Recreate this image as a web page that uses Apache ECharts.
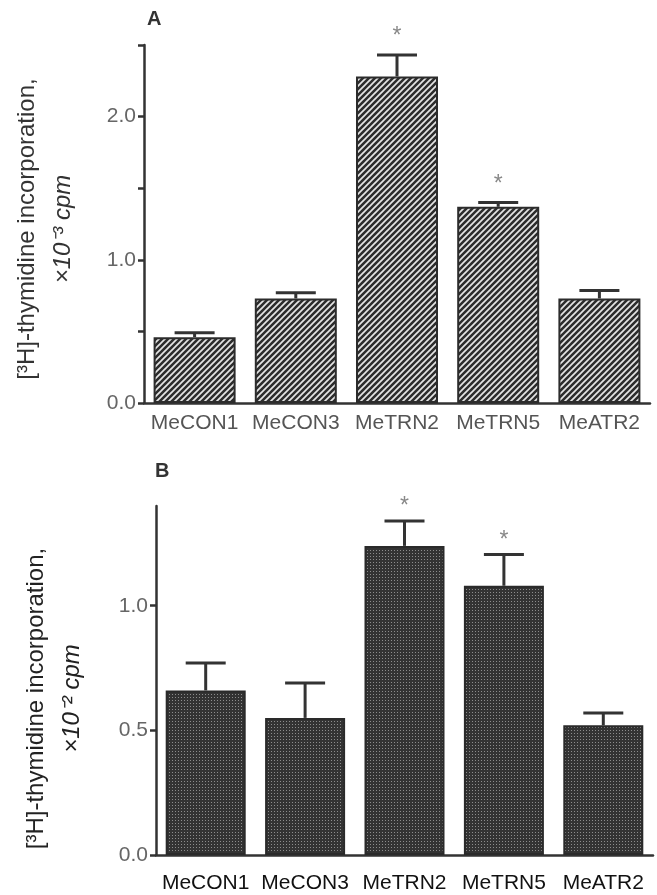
<!DOCTYPE html>
<html>
<head>
<meta charset="utf-8">
<script src="https://cdn.jsdelivr.net/npm/echarts@6/dist/echarts.min.js"></script>
<style>html,body{margin:0;background:#fff}#main{width:657px;height:895px}</style>
</head>
<body>
<div id="main"></div>
<script>
// groups on the x axis
var categories = ['MeCON1', 'MeCON3', 'MeTRN2', 'MeTRN5', 'MeATR2'];

// panel A: x10^-3 cpm
var meanA = [0.46, 0.73, 2.28, 1.37, 0.73];
var semA = [0.03, 0.04, 0.15, 0.03, 0.055];
var sigA = [0, 0, 1, 1, 0];
var ticksA = [0, 0.5, 1.0, 1.5, 2.0, 2.5];
var labelsA = [0, 1.0, 2.0];

// panel B: x10^-2 cpm
var meanB = [0.66, 0.55, 1.24, 1.08, 0.52];
var semB = [0.11, 0.14, 0.10, 0.125, 0.05];
var sigB = [0, 0, 1, 1, 0];
var ticksB = [0, 0.5, 1.0];
var labelsB = [0, 0.5, 1.0];

var FONT = '"Liberation Sans", Arial, sans-serif';

// diagonal white hatching on dark fill
function hatch() {
    var s = 6;
    var c = document.createElement('canvas');
    c.width = s; c.height = s;
    var g = c.getContext('2d');
    g.fillStyle = '#2c2c2c';
    g.fillRect(0, 0, s, s);
    g.strokeStyle = '#e4e4e4';
    g.lineWidth = 1.7;
    g.beginPath();
    g.moveTo(0, s); g.lineTo(s, 0);
    g.moveTo(-1, 1); g.lineTo(1, -1);
    g.moveTo(s - 1, s + 1); g.lineTo(s + 1, s - 1);
    g.stroke();
    return c;
}

// halftone stipple
function stipple() {
    var c = document.createElement('canvas');
    c.width = 3; c.height = 3;
    var g = c.getContext('2d');
    g.fillStyle = '#333333';
    g.fillRect(0, 0, 3, 3);
    g.fillStyle = '#8c8c8c';
    g.fillRect(1, 1, 1, 1);
    return c;
}

function errData(mean, sem, sig) {
    return categories.map(function (c, i) {
        return [i, mean[i], mean[i] + sem[i], sig[i]];
    });
}

function errRenderer(starGap) {
    return function (params, api) {
        var base = api.coord([api.value(0), api.value(1)]);
        var top = api.coord([api.value(0), api.value(2)]);
        var st = {stroke: '#333', lineWidth: 3};
        var kids = [
            {type: 'line', shape: {x1: base[0], y1: base[1], x2: top[0], y2: top[1]}, style: st},
            {type: 'line', shape: {x1: top[0] - 20, y1: top[1], x2: top[0] + 20, y2: top[1]}, style: st}
        ];
        if (api.value(3)) {
            kids.push({type: 'text', x: top[0], y: top[1] - starGap,
                style: {text: '*', fill: '#888', font: '23px ' + FONT, align: 'center', verticalAlign: 'middle'}});
        }
        return {type: 'group', children: kids};
    };
}

var myChart = echarts.init(document.getElementById('main'));

var xCommon = function (idx, labelColor, margin) {
    return {
        type: 'category',
        gridIndex: idx,
        data: categories,
        axisLine: {lineStyle: {color: '#333', width: 2.5}},
        axisTick: {length: 6, lineStyle: {color: '#333', width: 2.5}},
        axisLabel: {interval: 0, margin: margin, color: labelColor, fontSize: 21, fontFamily: FONT},
        splitLine: {show: false}
    };
};

var yCommon = function (idx, max, ticks, labels, name, nameColor, gap, pad) {
    return {
        type: 'value',
        gridIndex: idx,
        min: 0,
        max: max,
        axisLine: {show: true, lineStyle: {color: '#333', width: 2.5}},
        axisTick: {show: true, length: 6, customValues: ticks, lineStyle: {color: '#333', width: 2.5}},
        axisLabel: {customValues: labels, margin: 8, color: '#666', fontSize: 21, fontFamily: FONT,
            formatter: function (v) { return v.toFixed(1); }},
        splitLine: {show: false},
        name: name,
        nameLocation: 'middle',
        nameRotate: 90,
        nameGap: gap,
        nameTextStyle: {
            padding: pad,
            rich: {
                a: {fontSize: 24, fontFamily: FONT, color: nameColor, lineHeight: 36},
                b: {fontSize: 24, fontFamily: FONT, fontStyle: 'italic', color: nameColor, lineHeight: 36}
            }
        }
    };
};

option = {
    animation: false,
    backgroundColor: '#fff',
    graphic: [
        {type: 'text', left: 147, top: 9, style: {text: 'A', font: 'bold 20px ' + FONT, fill: '#333'}},
        {type: 'text', left: 155, top: 461, style: {text: 'B', font: 'bold 20px ' + FONT, fill: '#333'}}
    ],
    grid: [
        {left: 144, right: 7, top: 45, height: 358},
        {left: 156, right: 4, top: 506, height: 349}
    ],
    xAxis: [
        xCommon(0, '#555', 10),
        xCommon(1, '#111', 18)
    ],
    yAxis: [
        yCommon(0, 2.5, ticksA, labelsA, '{a|[³H]-thymidine incorporation,}\n{b|×10⁻³ cpm}', '#333', 63, [0, 10, 0, 0]),
        yCommon(1, 1.4, ticksB, labelsB, '{a|[³H]-thymidine incorporation,}\n{b|×10⁻² cpm}', '#222', 66, [0, 36, 0, 0])
    ],
    series: [
        {
            type: 'bar', xAxisIndex: 0, yAxisIndex: 0, barWidth: 82, data: meanA,
            itemStyle: {color: {image: hatch(), repeat: 'repeat'}, borderColor: '#2c2c2c', borderWidth: 2}
        },
        {
            type: 'custom', xAxisIndex: 0, yAxisIndex: 0, data: errData(meanA, semA, sigA),
            renderItem: errRenderer(18), encode: {x: 0, y: 2}, z: 5
        },
        {
            type: 'bar', xAxisIndex: 1, yAxisIndex: 1, barWidth: 80, data: meanB,
            itemStyle: {color: {image: stipple(), repeat: 'repeat'}, borderColor: '#2a2a2a', borderWidth: 2}
        },
        {
            type: 'custom', xAxisIndex: 1, yAxisIndex: 1, data: errData(meanB, semB, sigB),
            renderItem: errRenderer(14), encode: {x: 0, y: 2}, z: 5
        }
    ]
};

myChart.setOption(option);
</script>
</body>
</html>
